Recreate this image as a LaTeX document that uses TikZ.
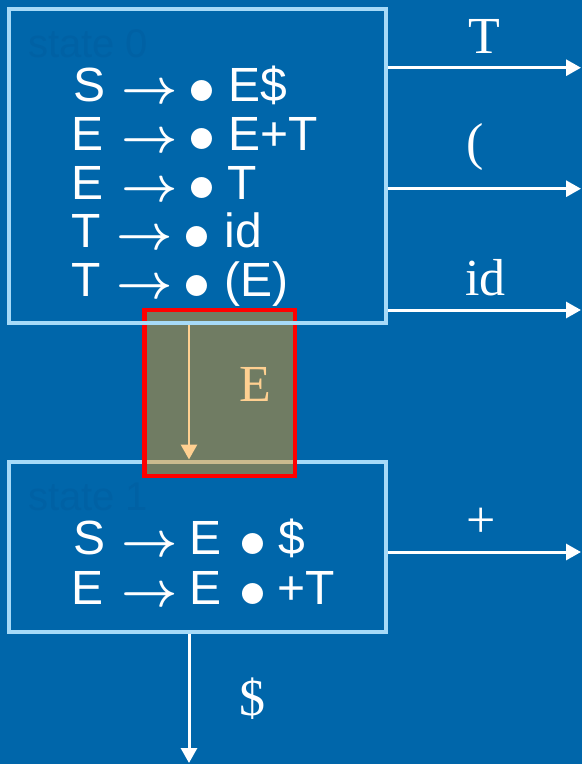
\documentclass[tikz,border=0pt]{standalone}
\usepackage{fontspec}
\setmainfont{Liberation Sans}
\newfontfamily\seriffam{Liberation Serif}
\usetikzlibrary{arrows.meta}
\definecolor{bg}{RGB}{0,102,170}
\definecolor{boxc}{RGB}{166,218,248}
\definecolor{faint}{RGB}{0,97,164}
\definecolor{hl}{RGB}{249,151,14}
\definecolor{peach}{RGB}{255,208,145}
\definecolor{redc}{RGB}{255,0,0}
\newcommand\pp[2]{\rlap{\hspace{#1pt}#2}}
\newcommand\pb[1]{\rlap{\hspace{#1pt}\makebox[0pt]{\raisebox{-2.5pt}{\scalebox{5.4}{\normalsize$\bullet$}}}}}
\newcommand\pa[1]{\rlap{\hspace{#1pt}\raisebox{-2pt}{\scalebox{4.9}{\normalsize\boldmath$\rightarrow$}}}}
\begin{document}
\begin{tikzpicture}[x=1pt,y=-1pt,
  statebox/.style={draw=boxc,line width=4pt,inner sep=0pt,rectangle},
  prod/.style={text=white,inner sep=0pt,anchor=base west,text height=36pt,text depth=8pt,font=\fontsize{48}{50}\selectfont},
  statelbl/.style={text=faint,inner sep=0pt,anchor=base west,text height=30pt,text depth=0pt,font=\fontsize{40}{42}\selectfont},
  lbl/.style={text=white,inner sep=0pt,anchor=base,font=\seriffam\fontsize{52}{54}\selectfont},
  arr/.style={draw=white,line width=3pt,-{Triangle[length=15pt,width=16pt]}},
  earr/.style={draw=peach,line width=2.8pt,-{Triangle[length=15pt,width=16pt]}}]
\useasboundingbox (0,0) rectangle (582,764);
\fill[bg] (0,0) rectangle (582,764);
% state 1 box
\node[statebox,minimum width=376.5pt,minimum height=170.5pt] (s1) at (197.25,546.75) {};
% highlight
\node[draw=redc,line width=4.5pt,fill=hl,fill opacity=0.45,draw opacity=1,
      minimum width=150.5pt,minimum height=166pt,inner sep=0pt] (hlbox) at (219.75,393) {};
% state 0 box
\node[statebox,minimum width=376.5pt,minimum height=313.5pt] (s0) at (197.25,165.75) {};
% faint state labels
\node[statelbl] (st0) at (28,57) {state 0};
\node[statelbl] (st1) at (28,510) {state 1};
% productions of state 0
\node[prod] (p1) at (0,101.5) {\pp{73}{S}\pa{120.4}\pb{201.5}\pp{228}{E\$}};
\node[prod] (p2) at (0,150.3) {\pp{71}{E}\pa{120.4}\pb{201.5}\pp{228}{E+T}};
\node[prod] (p3) at (0,199.1) {\pp{71}{E}\pa{120.4}\pb{201.5}\pp{227}{T}};
\node[prod] (p4) at (0,247.9) {\pp{71}{T}\pa{115.4}\pb{196.5}\pp{224}{id}};
\node[prod] (p5) at (0,296.7) {\pp{71}{T}\pa{115.4}\pb{196.5}\pp{224}{(E)}};
% productions of state 1
\node[prod] (q1) at (0,554.5) {\pp{73}{S}\pa{120.4}\pp{189}{E}\pb{252.5}\pp{278}{\$}};
\node[prod] (q2) at (0,604.5) {\pp{71}{E}\pa{120.4}\pp{189}{E}\pb{252.5}\pp{277}{+T}};
% outgoing arrows
\coordinate (tT) at (581,67.7);
\coordinate (tP) at (581,188.7);
\coordinate (tI) at (581,310);
\coordinate (tPlus) at (581,552);
\coordinate (tD) at (189,763);
\draw[arr] (tT -| s0.east) -- (tT);
\draw[arr] (tP -| s0.east) -- (tP);
\draw[arr] (tI -| s0.east) -- (tI);
\draw[arr] (tPlus -| s1.east) -- (tPlus);
\draw[arr] (tD |- s1.south) -- (tD);
% E transition
\coordinate (eX) at (189,0);
\draw[earr] (eX |- s0.south) -- (eX |- s1.north);
% labels
\node[lbl] (lT) at (484,53) {T};
\node[lbl] (lP) at (475,159) {(};
\node[lbl] (lI) at (485.5,295) {id};
\node[lbl] (lPlus) at (481,537) {+};
\node[lbl] (lD) at (252,715) {\$};
\node[lbl,text=peach] (lE) at (255.6,401.7) {E};
\end{tikzpicture}
\end{document}
